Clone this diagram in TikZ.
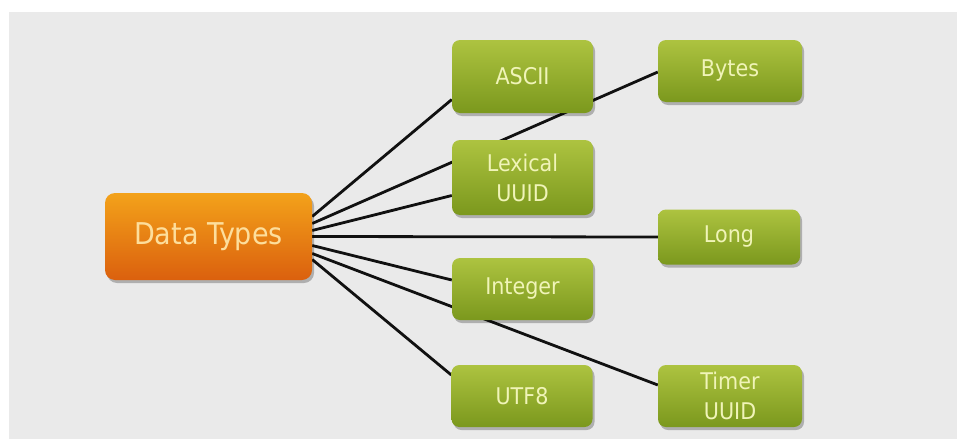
\documentclass[tikz,border=0pt]{standalone}
\usepackage{fontspec}
\setmainfont{DejaVu Sans Condensed}
\usetikzlibrary{calc,shadows,backgrounds}
\definecolor{bgray}{HTML}{EAEAEA}
\definecolor{greentop}{HTML}{ADC340}
\definecolor{greenbot}{HTML}{7B981D}
\definecolor{greentext}{HTML}{F0F4B8}
\definecolor{orangetop}{HTML}{F3A21A}
\definecolor{orangebot}{HTML}{DB600E}
\definecolor{orangetext}{HTML}{FDDE9C}
\definecolor{wire}{HTML}{111111}
\begin{document}
\begin{tikzpicture}[x=1pt,y=-1pt,
  softshadow/.style={drop shadow={shadow xshift=2pt,shadow yshift=-3pt,opacity=0.25,fill=black}},
  typebox/.style={rounded corners=8pt, draw=none, inner sep=0pt, align=center,
    minimum width=141pt, minimum height=62pt,
    font=\fontsize{23}{30}\selectfont, text=greentext,
    top color=greentop, bottom color=greenbot, softshadow},
  rootbox/.style={rounded corners=10pt, draw=none, inner sep=0pt, align=center,
    minimum width=207pt, minimum height=87pt,
    font=\fontsize{30}{34}\selectfont, text=orangetext,
    top color=orangetop, bottom color=orangebot, softshadow},
  link/.style={draw=wire, line width=2.8pt}]
\useasboundingbox (0,0) rectangle (957,439);

% root and leaf type boxes
\node[rootbox] (dt) at (208.5,236.5) {Data Types};

\node[typebox, minimum height=73pt] (ascii) at (522.5,76.5) {ASCII};
\node[typebox, minimum height=75pt] (lex) at (522.5,177.5) {Lexical\\UUID};
\node[typebox] (integer) at (522.5,289) {Integer};
\node[typebox] (utf8) at (522,396) {UTF8};

\node[typebox, minimum width=144pt] (bytes) at (730,71) {Bytes};
\node[typebox, minimum width=142pt, minimum height=55pt] (long) at (729,237) {Long};
\node[typebox, minimum width=144pt] (timer) at (730,396) {Timer\\UUID};

\begin{pgfonlayer}{background}
  \fill[bgray] (9,12) rectangle (957,439);
  % connectors fan out from the root, running behind the boxes
  \draw[link] ($(dt.east)+(0,-20)$) -- ($(ascii.west)+(0,23)$);
  \draw[link] ($(dt.east)+(0,-13)$) -- ($(bytes.west)+(0,1)$);
  \draw[link] ($(dt.east)+(0,-6)$)  -- ($(lex.west)+(0,18)$);
  \draw[link] (dt.east) -- (long.west);
  \draw[link] ($(dt.east)+(0,9)$)   -- ($(integer.west)+(0,-9)$);
  \draw[link] ($(dt.east)+(0,17)$)  -- ($(timer.west)+(0,-11)$);
  \draw[link] ($(dt.east)+(0,23)$)  -- ($(utf8.west)+(0,-21)$);
\end{pgfonlayer}
\end{tikzpicture}
\end{document}
